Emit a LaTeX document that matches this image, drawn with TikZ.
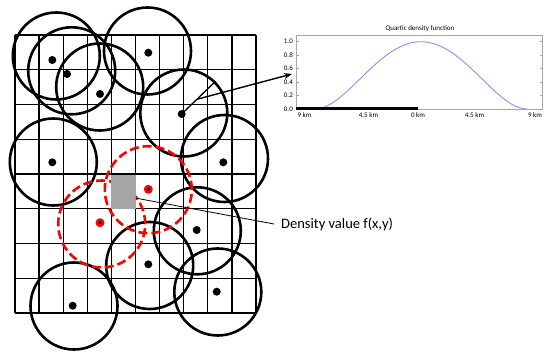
\documentclass[tikz,border=0pt]{standalone}
\usepackage{fontspec}
\setmainfont{Carlito}
\usetikzlibrary{arrows.meta, calc}

\begin{document}
\begin{tikzpicture}[
    x=1pt, y=-1pt,
    gridline/.style={line width=1.3pt},
    ring/.style={circle, draw=black, line width=2.6pt, minimum size=87pt, inner sep=0pt},
    redring/.style={circle, draw=red, line width=2.6pt, dash pattern=on 9pt off 4pt, minimum size=87pt, inner sep=0pt},
    dot/.style={circle, fill=black, minimum size=8pt, inner sep=0pt},
    reddot/.style={circle, fill=red, minimum size=9pt, inner sep=0pt,
        path picture={\fill[black] (path picture bounding box.center) circle (1.8pt);}},
    arrow/.style={line width=1.4pt, -{Stealth[length=8pt, width=6pt]}},
    chartframe/.style={draw=gray!70, line width=0.6pt},
    ticklabel/.style={font=\fontsize{7}{8}\selectfont, inner sep=1pt}
]
    \useasboundingbox (0,0) rectangle (550,358);

    % Grid
    \foreach \i in {0,...,10}
        \draw [gridline] ({15+24.1*\i},35) -- ({15+24.1*\i},313);
    \foreach \j in {0,...,8}
        \draw [gridline] (15,{35+34.75*\j}) -- (256,{35+34.75*\j});

    % Kernel circles
    \node (ring1) [ring] at (56.3, 56) {};
    \node (ring2) [ring] at (71.7, 70.8) {};
    \node (ring3) [ring] at (99.7, 87) {};
    \node (ring4) [ring] at (147.5, 51) {};
    \node (ring5) [ring] at (183.8, 113) {};
    \node (ring6) [ring] at (224.5, 158.5) {};
    \node (ring7) [ring] at (53.3, 162) {};
    \node (ring8) [ring] at (197.3, 230.8) {};
    \node (ring9) [ring] at (149.7, 265.5) {};
    \node (ring10) [ring] at (217.8, 292) {};
    \node (ring11) [ring] at (74, 306) {};
    \node (redring1) [redring] at (148.3, 189.7) {};
    \node (redring2) [redring] at (101.7, 224) {};

    % Evaluated cell
    \node (cell) [fill=gray!70, minimum width=24.1pt, minimum height=34.75pt, inner sep=0pt] at (123.45, 192.1) {};

    % Points
    \node (dot1) [dot] at (52.3, 60) {};
    \node (dot2) [dot] at (67, 74) {};
    \node (dot3) [dot] at (100, 94) {};
    \node (dot4) [dot] at (148.3, 52.7) {};
    \node (dot5) [dot] at (181.7, 114) {};
    \node (dot6) [dot] at (223.3, 162.3) {};
    \node (dot7) [dot] at (52.3, 162.3) {};
    \node (dot8) [dot] at (196.7, 230) {};
    \node (dot9) [dot] at (148.3, 264.3) {};
    \node (dot10) [dot] at (216.7, 291.7) {};
    \node (dot11) [dot] at (72.7, 305.7) {};
    \node (reddot1) [reddot] at (148.3, 189.3) {};
    \node (reddot2) [reddot] at (100, 222.7) {};

    % Bandwidth and arrow to the kernel
    \draw [line width=1.3pt] (dot5.center) -- (ring5.45);
    \coordinate (mid) at ($(dot5.center)!0.45!(ring5.45)$);
    \coordinate (tip) at (292, 74);
    \draw [arrow] (mid) -- (tip);

    % Label
    \node (density) [anchor=west, font=\fontsize{14.5}{16}\selectfont, inner xsep=7pt, inner ysep=0pt] at (274, 224) {Density value f(x,y)};
    \draw [line width=0.8pt] ([yshift=-6pt]cell.east) -- (density.west);

    % Chart
    \node (title) [ticklabel] at (420, 29) {Quartic density function};
    \draw [chartframe] (296,35) rectangle (542.7,109);
    \foreach \v [count=\i] in {0.0,0.2,0.4,0.6,0.8,1.0} {
        \draw [chartframe] (296,{109-67.3*\v}) -- (299,{109-67.3*\v});
        \draw [chartframe] (542.7,{109-67.3*\v}) -- (539.7,{109-67.3*\v});
        \node (ylab\i) [ticklabel, anchor=east] at (294,{109-67.3*\v}) {\v};
    }
    \draw [draw=blue!45, line width=0.9pt] plot [domain=-1:1, samples=80, smooth]
        ({421+106*\x},{109-67.3*(1-(\x)*(\x))*(1-(\x)*(\x))});
    \draw [line width=3pt] (296,109) -- (418,109);
    \node (xlab1) [ticklabel] at (304.5, 115.5) {9 km};
    \node (xlab2) [ticklabel] at (368.5, 115.5) {4.5 km};
    \node (xlab3) [ticklabel] at (418, 115.5) {0 km};
    \node (xlab4) [ticklabel] at (474.5, 115.5) {4.5 km};
    \node (xlab5) [ticklabel] at (535, 115.5) {9 km};
\end{tikzpicture}
\end{document}
